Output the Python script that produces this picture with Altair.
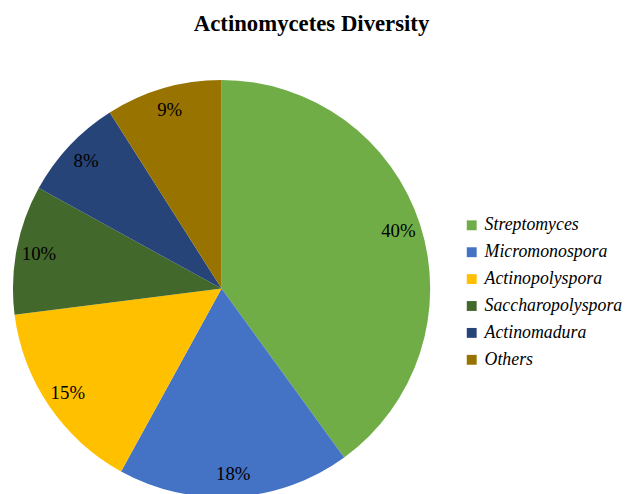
import altair as alt
import pandas as pd

genera = ["Streptomyces", "Micromonospora", "Actinopolyspora",
          "Saccharopolyspora", "Actinomadura", "Others"]
percent = [40, 18, 15, 10, 8, 9]
labels = ["40%", "18%", "15%", "10%", "8%", "9%"]
colors = ["#70AD47", "#4472C4", "#FFC000", "#43682B", "#264478", "#997300"]

df = pd.DataFrame({
    "genus": genera,
    "value": percent,
    "label": labels,
    "idx": list(range(len(genera))),
})

SERIF = "Liberation Serif"

base = alt.Chart(df).encode(
    theta=alt.Theta("value:Q", stack=True),
    order=alt.Order("idx:Q", sort="ascending"),
)

pie = base.mark_arc(outerRadius=211, stroke=None).encode(
    color=alt.Color(
        "genus:N",
        scale=alt.Scale(domain=genera, range=colors),
        sort=genera,
        legend=alt.Legend(
            title=None,
            orient="none",
            legendX=455,
            legendY=138,
            symbolType="square",
            symbolSize=100,
            symbolStrokeWidth=0,
            labelFont=SERIF,
            labelFontStyle="italic",
            labelFontSize=18,
            labelColor="#000000",
            labelOffset=4,
            rowPadding=9.2,
            padding=0,
            labelLimit=300,
        ),
    )
)

text = base.mark_text(
    radius=188, font=SERIF, fontSize=19, color="#000000"
).encode(text="label:N")

chart = (
    (pie + text)
    .properties(
        width=422,
        height=422,
        padding={"left": 5, "top": 2, "right": 0, "bottom": 0},
        title=alt.TitleParams(
            "Actinomycetes Diversity",
            font=SERIF,
            fontSize=23,
            fontWeight="bold",
            color="#000000",
            anchor="middle",
            dx=91,
            offset=45,
        ),
    )
    .configure_view(stroke=None)
)

chart.save("out.html", embed_options={"renderer": "svg", "actions": False})
